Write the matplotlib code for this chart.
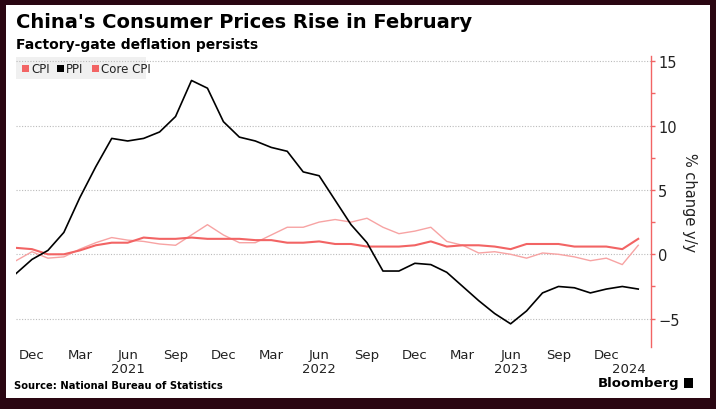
import matplotlib.pyplot as plt
from matplotlib.patches import Rectangle
import numpy as np

# monthly data, Nov 2020 .. Feb 2024
ppi = [-1.5, -0.4,
       0.3, 1.7, 4.4, 6.8, 9.0, 8.8, 9.0, 9.5, 10.7, 13.5, 12.9, 10.3,
       9.1, 8.8, 8.3, 8.0, 6.4, 6.1, 4.2, 2.3, 0.9, -1.3, -1.3, -0.7,
       -0.8, -1.4, -2.5, -3.6, -4.6, -5.4, -4.4, -3.0, -2.5, -2.6, -3.0, -2.7,
       -2.5, -2.7]
cpi = [-0.5, 0.2,
       -0.3, -0.2, 0.4, 0.9, 1.3, 1.1, 1.0, 0.8, 0.7, 1.5, 2.3, 1.5,
       0.9, 0.9, 1.5, 2.1, 2.1, 2.5, 2.7, 2.5, 2.8, 2.1, 1.6, 1.8,
       2.1, 1.0, 0.7, 0.1, 0.2, 0.0, -0.3, 0.1, 0.0, -0.2, -0.5, -0.3,
       -0.8, 0.7]
core_cpi = [0.5, 0.4,
            0.0, 0.0, 0.3, 0.7, 0.9, 0.9, 1.3, 1.2, 1.2, 1.3, 1.2, 1.2,
            1.2, 1.1, 1.1, 0.9, 0.9, 1.0, 0.8, 0.8, 0.6, 0.6, 0.6, 0.7,
            1.0, 0.6, 0.7, 0.7, 0.6, 0.4, 0.8, 0.8, 0.8, 0.6, 0.6, 0.6,
            0.4, 1.2]
month_ticks = [1, 4, 7, 10, 13, 16, 19, 22, 25, 28, 31, 34, 37]
month_labels = ['Dec', 'Mar', 'Jun', 'Sep'] * 3 + ['Dec']
year_pos = [7, 19, 31, 38.4]
year_labels = ['2021', '2022', '2023', '2024']
y_ticks = [-5, 0, 5, 10, 15]

W, H = 716, 410
border = '#2a0612'
red_core = '#f26464'
red_cpi = '#f7a3a3'
txt = '#222222'

fig = plt.figure(figsize=(W / 100, H / 100), dpi=100, facecolor=border)
fig.patches.append(Rectangle((6 / W, (H - 399) / H), (710 - 6) / W, (399 - 6) / H,
                             transform=fig.transFigure, facecolor='white',
                             edgecolor='none', zorder=-5))

ax = fig.add_axes([16 / W, (H - 348) / H, (651 - 16) / W, (348 - 57) / H])
ax.set_zorder(2)
ax.set_facecolor('none')
x = np.arange(len(ppi))
ax.plot(x, cpi, color=red_cpi, lw=1.0, zorder=3)
ax.plot(x, core_cpi, color=red_core, lw=1.5, zorder=4)
ax.plot(x, ppi, color='black', lw=1.2, zorder=5)

ax.set_xlim(0, 39.8)
ax.set_ylim(-7.2, 15.4)
for s in ['left', 'top', 'bottom']:
    ax.spines[s].set_visible(False)
ax.spines['right'].set_color(red_core)
ax.spines['right'].set_linewidth(1.0)
ax.yaxis.tick_right()
ax.set_yticks(y_ticks)
ax.set_yticks([-2.5, 2.5, 7.5, 12.5], minor=True)
ax.tick_params(axis='y', which='both', colors=red_core, labelcolor=txt,
               labelsize=10.5, length=3, width=1, pad=2)
ax.tick_params(axis='y', which='minor', length=3)
ax.yaxis.grid(True, which='major', color='#bbbbbb', ls=(0, (1, 1.5)), lw=0.8)
ax.set_xticks(month_ticks)
ax.set_xticklabels(month_labels)
ax.tick_params(axis='x', length=0, labelsize=9.5, labelcolor=txt, pad=1)
for p, lab in zip(year_pos, year_labels):
    ax.text(p, -0.052, lab, transform=ax.get_xaxis_transform(), ha='center',
            va='top', fontsize=9.5, color=txt)

ax.set_ylabel('% change y/y', fontsize=10.5, color=txt, rotation=270, labelpad=13)
ax.yaxis.set_label_position('right')

fig.text(16 / W, 1 - 23 / H, "China's Consumer Prices Rise in February",
         fontsize=14, fontweight='bold', color='black', va='center')
fig.text(16 / W, 1 - 45 / H, 'Factory-gate deflation persists',
         fontsize=10, fontweight='bold', color='black', va='center')

# legend box
fig.patches.append(Rectangle((16 / W, 1 - 80 / H), 130 / W, 22 / H,
                             transform=fig.transFigure, facecolor='#f0f0f0',
                             edgecolor='none', zorder=1))
leg = [('CPI', red_core, 22), ('PPI', 'black', 57), ('Core CPI', red_core, 92)]
for lab, c, px in leg:
    fig.patches.append(Rectangle((px / W, 1 - 73 / H), 7 / W, 7 / H,
                                 transform=fig.transFigure, facecolor=c,
                                 edgecolor='none', zorder=2))
    fig.text((px + 9) / W, 1 - 69.5 / H, lab, fontsize=8.5, color=txt, va='center')

fig.text(14 / W, 1 - 386 / H, 'Source: National Bureau of Statistics',
         fontsize=7.2, fontweight='bold', color='black', va='center')
fig.text(679 / W, 1 - 384 / H, 'Bloomberg', fontsize=9.5, fontweight='bold',
         color='black', va='center', ha='right')
fig.patches.append(Rectangle((684 / W, 1 - 389 / H), 9 / W, 10 / H,
                             transform=fig.transFigure, facecolor='black',
                             edgecolor='none', zorder=2))

fig.savefig('out.png', dpi=100, facecolor=border)
